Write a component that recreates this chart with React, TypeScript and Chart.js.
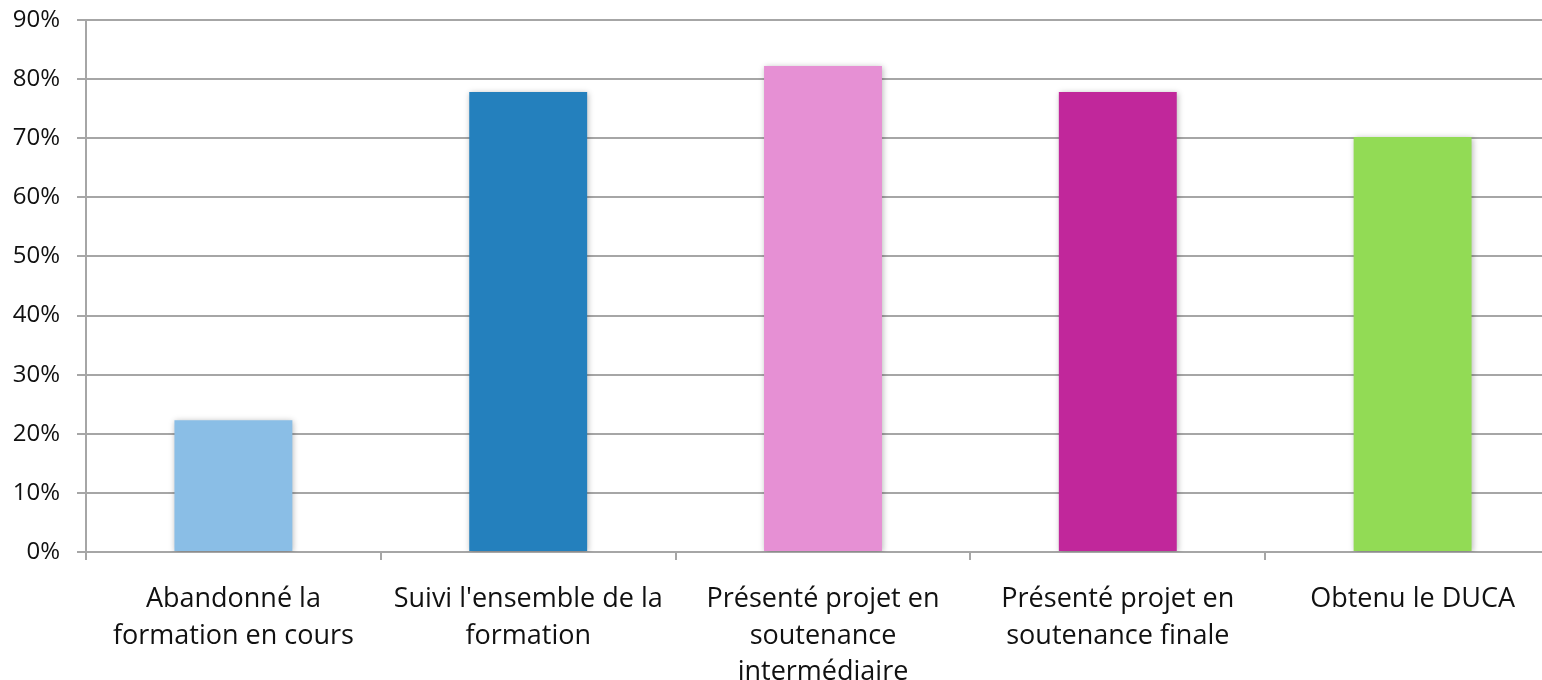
import React, { useEffect, useRef } from "react";
import { Chart, registerables } from "chart.js";

Chart.register(...registerables);

const categories: string[][] = [
  ["Abandonné la", "formation en cours"],
  ["Suivi l'ensemble de la", "formation"],
  ["Présenté projet en", "soutenance", "intermédiaire"],
  ["Présenté projet en", "soutenance finale"],
  ["Obtenu le DUCA"],
];
const values: number[] = [22.3, 77.8, 82.2, 77.8, 70.2];
const barColors: string[] = ["#8ABEE6", "#2480BD", "#E690D4", "#C1279B", "#92DB55"];
const yMin = 0;
const yMax = 90;
const yStep = 10;

const FONT = "'Open Sans', Lato, sans-serif";

const shadowPlugin = {
  id: "barShadow",
  beforeDatasetDraw(chart: any) {
    const ctx = chart.ctx;
    ctx.save();
    ctx.shadowColor = "rgba(0,0,0,0.28)";
    ctx.shadowBlur = 6;
    ctx.shadowOffsetX = 1;
    ctx.shadowOffsetY = 1;
  },
  afterDatasetDraw(chart: any) {
    chart.ctx.restore();
  },
};

export default function App() {
  const ref = useRef<HTMLCanvasElement | null>(null);

  useEffect(() => {
    document.body.style.margin = "0";
    if (!ref.current) return;
    const chart = new Chart(ref.current, {
      type: "bar",
      data: {
        labels: categories,
        datasets: [
          {
            data: values,
            backgroundColor: barColors,
            borderWidth: 0,
            categoryPercentage: 0.4,
            barPercentage: 1,
          },
        ],
      },
      plugins: [shadowPlugin],
      options: {
        animation: false,
        responsive: false,
        maintainAspectRatio: false,
        layout: { padding: { top: 20, right: 0, left: 0, bottom: 0 } },
        plugins: {
          legend: { display: false },
          tooltip: { enabled: false },
        },
        scales: {
          x: {
            grid: {
              offset: true,
              drawOnChartArea: false,
              drawTicks: true,
              tickLength: 8,
              color: "#A6A6A6",
              lineWidth: 2,
            },
            border: { color: "#A6A6A6", width: 2 },
            ticks: {
              color: "#111",
              font: { family: FONT, size: 27, lineHeight: 1.36 },
              padding: 21,
              maxRotation: 0,
              autoSkip: false,
            },
            afterFit: (scale: any) => {
              scale.height = 128;
              scale.paddingLeft = 0;
              scale.paddingRight = 0;
            },
          },
          y: {
            min: yMin,
            max: yMax,
            grid: {
              color: "#A6A6A6",
              lineWidth: 2,
              tickLength: 9,
            },
            border: { color: "#A6A6A6", width: 2 },
            ticks: {
              stepSize: yStep,
              color: "#111",
              font: { family: FONT, size: 24 },
              padding: 17,
              callback: (v: any) => v + "%",
            },
            afterFit: (scale: any) => {
              scale.width = 86;
              scale.paddingTop = 0;
              scale.paddingBottom = 0;
            },
          },
        },
      },
    });
    return () => chart.destroy();
  }, []);

  return (
    <div style={{ position: "absolute", left: 0, top: 0, width: 1542, height: 680, overflow: "hidden" }}>
      <canvas ref={ref} width={1560} height={680} style={{ display: "block" }} />
    </div>
  );
}
